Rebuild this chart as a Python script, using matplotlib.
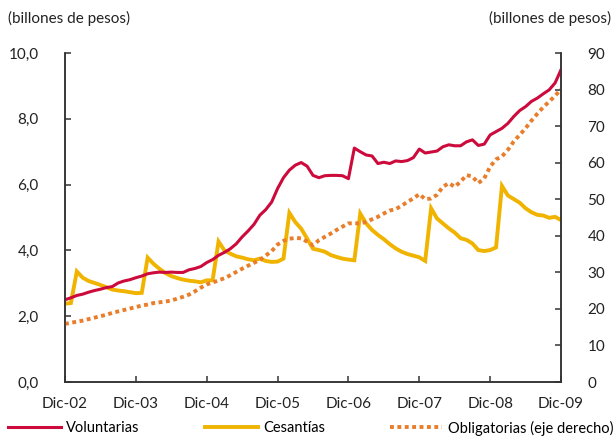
import matplotlib.pyplot as plt
from matplotlib.lines import Line2D

plt.rcParams['font.family'] = ['Lato', 'DejaVu Sans']

# monthly data, Dic-02 .. Dic-09
voluntarias = [2.50, 2.56, 2.63, 2.67, 2.73, 2.78, 2.82, 2.87, 2.90, 3.01,
               3.07, 3.11, 3.17, 3.22, 3.29, 3.32, 3.34, 3.33, 3.34, 3.33,
               3.33, 3.41, 3.45, 3.51, 3.63, 3.72, 3.85, 3.94, 4.05, 4.20,
               4.41, 4.59, 4.79, 5.07, 5.24, 5.47, 5.88, 6.21, 6.44, 6.59,
               6.67, 6.56, 6.28, 6.21, 6.27, 6.28, 6.28, 6.27, 6.18, 7.11,
               7.00, 6.90, 6.87, 6.64, 6.68, 6.64, 6.72, 6.70, 6.73, 6.82,
               7.08, 6.96, 6.99, 7.02, 7.15, 7.21, 7.18, 7.18, 7.30, 7.36,
               7.19, 7.23, 7.51, 7.61, 7.71, 7.86, 8.07, 8.25, 8.37, 8.53,
               8.63, 8.76, 8.88, 9.09, 9.49]

cesantias = [2.38, 2.40, 3.36, 3.17, 3.07, 3.01, 2.95, 2.88, 2.81, 2.78,
             2.76, 2.73, 2.70, 2.71, 3.78, 3.59, 3.44, 3.31, 3.22, 3.16,
             3.11, 3.08, 3.06, 3.03, 3.09, 3.09, 4.27, 4.00, 3.90, 3.82,
             3.78, 3.73, 3.70, 3.75, 3.68, 3.65, 3.66, 3.75, 5.14, 4.86,
             4.66, 4.36, 4.05, 4.01, 3.96, 3.86, 3.80, 3.75, 3.72, 3.70,
             5.12, 4.82, 4.62, 4.47, 4.34, 4.19, 4.06, 3.96, 3.89, 3.84,
             3.79, 3.68, 5.28, 4.97, 4.82, 4.67, 4.54, 4.37, 4.32, 4.21,
             4.01, 3.98, 4.01, 4.09, 5.96, 5.67, 5.56, 5.45, 5.28, 5.16,
             5.08, 5.06, 4.99, 5.02, 4.92]

obligatorias = [15.9, 16.2, 16.5, 16.8, 17.2, 17.6, 18.0, 18.4, 18.9, 19.3,
                19.7, 20.1, 20.5, 20.9, 21.2, 21.6, 21.8, 22.0, 22.3, 22.8,
                23.3, 23.9, 24.8, 25.8, 26.7, 27.2, 27.8, 28.4, 29.2, 30.1,
                31.0, 31.8, 32.6, 33.4, 34.6, 35.8, 37.6, 38.6, 39.2, 39.4,
                39.3, 38.4, 37.4, 38.8, 39.7, 40.6, 41.6, 42.5, 43.4, 43.4,
                43.4, 43.8, 44.5, 45.2, 46.1, 46.9, 47.3, 48.2, 49.3, 50.2,
                51.4, 50.0, 50.2, 51.2, 53.4, 54.4, 53.4, 54.8, 56.6, 56.2,
                54.4, 55.7, 58.9, 60.9, 61.7, 63.5, 65.8, 67.6, 69.4, 71.5,
                73.4, 75.2, 76.7, 78.3, 80.1]

year_labels = ['Dic-02', 'Dic-03', 'Dic-04', 'Dic-05', 'Dic-06', 'Dic-07', 'Dic-08', 'Dic-09']

red = '#CC0A3C'
gold = '#F0B400'
orange = '#EA7D2A'
axcol = '#333333'

months = list(range(len(voluntarias)))

fig = plt.figure(figsize=(6.14, 4.38), dpi=100)
ax = fig.add_axes([65 / 614, 56 / 438, 496 / 614, 329 / 438])
ax2 = ax.twinx()

ax.plot(months, voluntarias, color=red, lw=2.2, solid_joinstyle='round', zorder=3)
ax.plot(months, cesantias, color=gold, lw=2.8, solid_joinstyle='miter', zorder=2)
ax2.plot(months, obligatorias, color=orange, lw=2.8, linestyle=(0, (1, 0.9)),
         dash_capstyle='butt', zorder=1)

ax.set_xlim(0, 84)
ax.set_ylim(0, 10)
ax2.set_ylim(0, 90)
ax.set_xticks(range(0, 85, 12))
ax.set_xticklabels(year_labels)
ax.set_yticks([0, 2, 4, 6, 8, 10])
ax.set_yticklabels(['0,0', '2,0', '4,0', '6,0', '8,0', '10,0'])
ax2.set_yticks(range(0, 91, 10))

for a in (ax, ax2):
    a.spines['top'].set_visible(False)
    for s in ('left', 'right', 'bottom'):
        a.spines[s].set_color(axcol)
        a.spines[s].set_linewidth(1.1)
    a.set_facecolor('none')

ax.tick_params(axis='y', direction='in', length=4, width=1.1, color=axcol,
               labelsize=11, pad=19, labelcolor='#222222')
ax.tick_params(axis='x', direction='in', length=4, width=1.1, color=axcol,
               labelsize=11, pad=10.5, labelcolor='#222222')
ax2.tick_params(axis='y', direction='in', length=4, width=1.1, color=axcol,
                labelsize=11, pad=19, labelcolor='#222222')

fig.text(8 / 614, 1 - 18 / 438, '(billones de pesos)', fontsize=11,
         ha='left', va='center', color='#222222')
fig.text(611 / 614, 1 - 18 / 438, '(billones de pesos)', fontsize=11,
         ha='right', va='center', color='#222222')

# legend along the bottom
items = [
    (Line2D([], [], color=red, lw=2.2), 'Voluntarias', 8),
    (Line2D([], [], color=gold, lw=2.8), 'Cesantías', 205),
    (Line2D([], [], color=orange, lw=2.8, linestyle=(0, (1, 0.9)), dash_capstyle='butt'),
     'Obligatorias (eje derecho)', 390),
]
for handle, label, xpos in items:
    fig.legend([handle], [label], loc='center left',
               bbox_to_anchor=(xpos / 614, 1 - 428 / 438), frameon=False,
               fontsize=10.5, handlelength=3.6, handletextpad=0.4,
               borderaxespad=0, borderpad=0)

fig.savefig('out.png', dpi=100)
